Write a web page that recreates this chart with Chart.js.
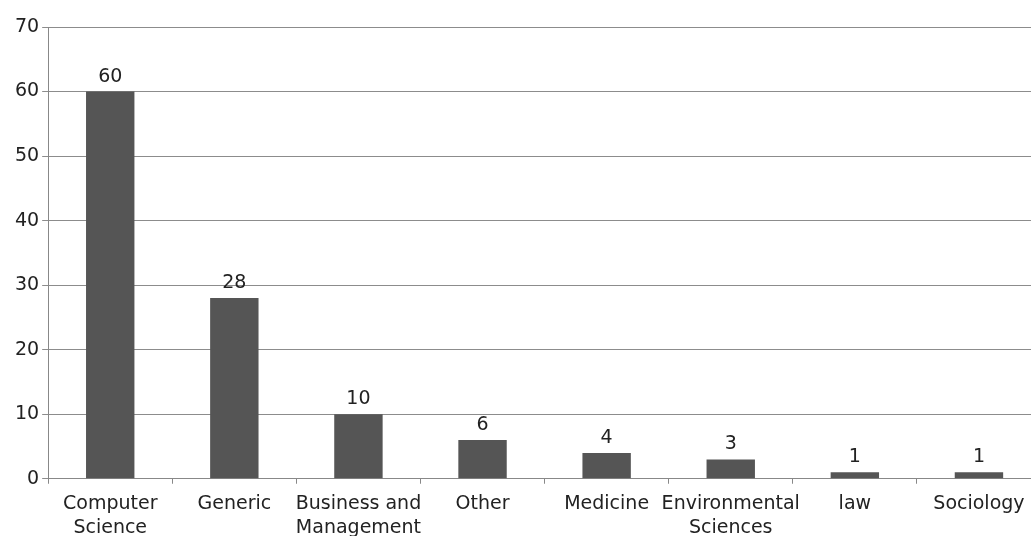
<!DOCTYPE html>
<html>
<head>
<meta charset="utf-8">
<script src="https://cdn.jsdelivr.net/npm/chart.js@4/dist/chart.umd.min.js"></script>
<style>
  html, body { margin: 0; padding: 0; background: #fff; overflow: hidden; }
  #wrap { position: relative; width: 1041px; height: 548px; }
</style>
</head>
<body>
<div id="wrap"><canvas id="subjectChart"></canvas></div>
<script>
// subject areas and paper counts
const categories = [
    ['Computer', 'Science'],
    'Generic',
    ['Business and', 'Management'],
    'Other',
    'Medicine',
    ['Environmental', 'Sciences'],
    'law',
    'Sociology'
];
const counts = [60, 28, 10, 6, 4, 3, 1, 1];
const yTicks = [0, 10, 20, 30, 40, 50, 60, 70];

const FONT = '"DejaVu Sans", "Liberation Sans", Arial, sans-serif';

// writes the value above each bar
const valueLabels = {
    id: 'valueLabels',
    afterDatasetsDraw(chart) {
        let ctx = chart.ctx;
        let meta = chart.getDatasetMeta(0);
        ctx.save();
        ctx.font = '19px ' + FONT;
        ctx.fillStyle = '#222';
        ctx.textAlign = 'center';
        ctx.textBaseline = 'alphabetic';
        meta.data.forEach((bar, i) => {
            ctx.fillText(String(counts[i]), bar.x, bar.y - 10);
        });
        ctx.restore();
    }
};

let ctx = document.getElementById('subjectChart').getContext('2d');
new Chart(ctx, {
    type: 'bar',
    data: {
        labels: categories,
        datasets: [{
            data: counts,
            backgroundColor: '#555555',
            borderWidth: 0,
            categoryPercentage: 1,
            barPercentage: 0.39
        }]
    },
    options: {
        responsive: true,
        maintainAspectRatio: false,
        animation: false,
        layout: { padding: { top: 27, left: 12, right: 0, bottom: 0 } },
        plugins: {
            legend: { display: false },
            tooltip: { enabled: false }
        },
        scales: {
            x: {
                offset: true,
                grid: {
                    offset: true,
                    drawOnChartArea: false,
                    drawTicks: true,
                    tickLength: 5,
                    color: '#888'
                },
                border: { color: '#888', width: 1 },
                ticks: {
                    color: '#222',
                    padding: 8,
                    maxRotation: 0,
                    autoSkip: false,
                    font: { family: FONT, size: 19, lineHeight: 1.27 }
                }
            },
            y: {
                min: 0,
                max: 70,
                afterBuildTicks(axis) {
                    axis.ticks = yTicks.map(v => ({ value: v }));
                },
                grid: {
                    color: '#8c8c8c',
                    tickLength: 6,
                    lineWidth: 1
                },
                border: { color: '#888', width: 1 },
                ticks: {
                    color: '#222',
                    padding: 3,
                    font: { family: FONT, size: 19 }
                }
            }
        }
    },
    plugins: [valueLabels]
});
</script>
</body>
</html>
